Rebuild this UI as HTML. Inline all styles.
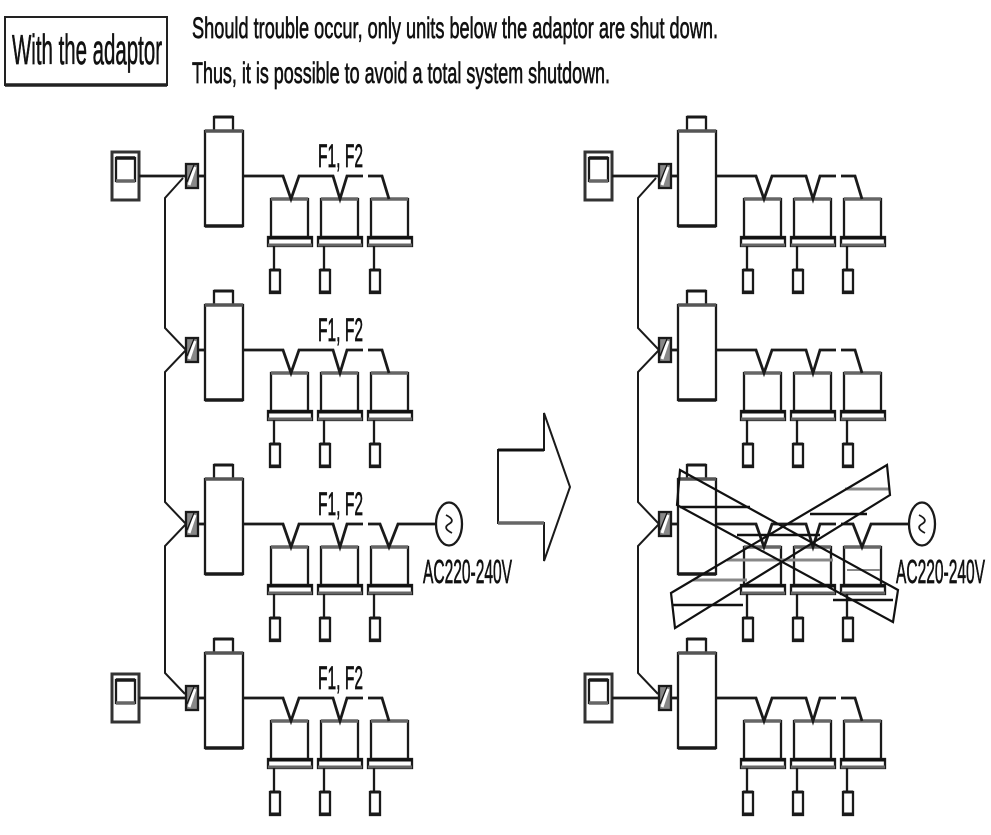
<!DOCTYPE html>
<html>
<head>
<meta charset="utf-8">
<style>
  html,body{margin:0;padding:0;background:#fff;}
  svg{display:block;}
  text{font-family:"Liberation Sans", Arial, sans-serif; fill:#111; stroke:#111; stroke-width:0.7;}
</style>
</head>
<body>
<svg width="991" height="835" viewBox="0 0 991 835" xmlns="http://www.w3.org/2000/svg">
  <defs>
    <g id="od" stroke="#1a1a1a" stroke-width="2.3" fill="#fff">
      <rect x="214" y="-59" width="19" height="14"/>
      <line x1="214" y1="-59" x2="233" y2="-59" stroke-width="3"/>
      <rect x="205" y="-45" width="38" height="95"/>
      <line x1="205" y1="-45" x2="243" y2="-45" stroke="#555" stroke-width="3.5"/>
      <line x1="205" y1="50" x2="243" y2="50" stroke-width="3.5"/>
      <rect x="186" y="-12" width="12" height="24" fill="#888"/>
      <line x1="189" y1="9" x2="195" y2="-9" stroke="#fff" stroke-width="3"/>
      <line x1="187" y1="6" x2="194" y2="-11" stroke="#111" stroke-width="1.2"/>
      <line x1="198" y1="0" x2="205" y2="0" stroke-width="2.8"/>
    </g>
    <g id="iu" stroke="#1a1a1a" stroke-width="2.3" fill="#fff">
      <rect x="3" y="23" width="37" height="38"/>
      <line x1="3" y1="23" x2="40" y2="23" stroke="#666" stroke-width="3.5"/>
      <rect x="0" y="61" width="44" height="9"/>
      <line x1="0" y1="62" x2="44" y2="62" stroke="#111" stroke-width="3"/>
      <line x1="0" y1="69" x2="44" y2="69" stroke="#666" stroke-width="3"/>
      <line x1="6" y1="70" x2="6" y2="94"/>
      <rect x="2" y="94" width="10" height="23"/>
      <line x1="2" y1="94" x2="12" y2="94" stroke-width="3"/>
      <line x1="2" y1="116" x2="12" y2="116" stroke-width="3"/>
    </g>
    <g id="units">
      <use href="#iu" transform="translate(268,0)"/>
      <use href="#iu" transform="translate(318,0)"/>
      <use href="#iu" transform="translate(368,0)"/>
    </g>
    <g id="w1" stroke="#1a1a1a" stroke-width="2.8" fill="none">
      <polyline points="243,0 283,0 291,23 299,0 333,0 340,23 347,0 363,0"/>
      <polyline points="368,0 382,0 389,23"/>
    </g>
    <g id="w3" stroke="#1a1a1a" stroke-width="2.8" fill="none">
      <polyline points="243,0 283,0 291,23 299,0 333,0 340,23 347,0 363,0"/>
      <polyline points="368,0 380,0 389,23 398,0 436,0"/>
      <ellipse cx="449" cy="0" rx="13" ry="21.5" stroke-width="2.3"/>
      <path d="M446,-9 Q456,-4 449,0 Q442,4 452,9" stroke-width="1.8"/>
    </g>
    <g id="rc" stroke="#1a1a1a" stroke-width="2.3" fill="#fff">
      <rect x="112" y="-24" width="27" height="48" stroke="#333" stroke-width="3"/>
      <rect x="116" y="-18" width="19" height="23"/>
      <line x1="116" y1="-18" x2="135" y2="-18" stroke-width="3.5"/>
      <line x1="116" y1="5" x2="135" y2="5" stroke="#666" stroke-width="3.5"/>
      <line x1="139" y1="0" x2="186" y2="0" stroke-width="2.8"/>
    </g>
    <g id="side">
      <path d="M183,178 L165,198 L165,328 L186,350 L165,372 L165,502 L186,524 L165,546 L165,673 L185,694" fill="none" stroke="#1a1a1a" stroke-width="2"/>
      <g transform="translate(0,176)"><use href="#rc"/><use href="#od"/><use href="#units"/><use href="#w1"/></g>
      <g transform="translate(0,350)"><use href="#od"/><use href="#units"/><use href="#w1"/></g>
      <g transform="translate(0,524)"><use href="#od"/><use href="#units"/><use href="#w3"/></g>
      <g transform="translate(0,698)"><use href="#rc"/><use href="#od"/><use href="#units"/><use href="#w1"/></g>
    </g>
  </defs>

  <rect x="5" y="17" width="162" height="68" fill="#fff" stroke="#222" stroke-width="2"/>
  <line x1="5" y1="85" x2="167" y2="85" stroke="#222" stroke-width="3.5"/>
  <text x="12" y="64" font-size="42" textLength="150" lengthAdjust="spacingAndGlyphs">With the adaptor</text>
  <text x="192" y="38" font-size="30" textLength="526" lengthAdjust="spacingAndGlyphs">Should trouble occur, only units below the adaptor are shut down.</text>
  <text x="192" y="83" font-size="30" textLength="418" lengthAdjust="spacingAndGlyphs">Thus, it is possible to avoid a total system shutdown.</text>

  <use href="#side"/>
  <text x="318" y="167" font-size="32" textLength="45" lengthAdjust="spacingAndGlyphs">F1, F2</text>
  <text x="318" y="341" font-size="32" textLength="45" lengthAdjust="spacingAndGlyphs">F1, F2</text>
  <text x="318" y="515" font-size="32" textLength="45" lengthAdjust="spacingAndGlyphs">F1, F2</text>
  <text x="318" y="689" font-size="32" textLength="45" lengthAdjust="spacingAndGlyphs">F1, F2</text>
  <text x="423" y="583" font-size="33" textLength="89" lengthAdjust="spacingAndGlyphs">AC220-240V</text>

  <polygon points="498,450 544,450 544,413 570,487 544,561 544,523 498,523" fill="#fff" stroke="#1a1a1a" stroke-width="2"/>
  <line x1="498" y1="450" x2="544" y2="450" stroke="#111" stroke-width="3"/>
  <line x1="498" y1="523" x2="544" y2="523" stroke="#666" stroke-width="3.5"/>

  <use href="#side" transform="translate(473,0)"/>
  <text x="896" y="583" font-size="33" textLength="89" lengthAdjust="spacingAndGlyphs">AC220-240V</text>

  <g stroke-linecap="butt">
    <line x1="845" y1="489" x2="890" y2="489" stroke="#888" stroke-width="3"/>
    <line x1="680" y1="507" x2="750" y2="507" stroke="#111" stroke-width="2.5"/>
    <line x1="810" y1="514" x2="867" y2="514" stroke="#111" stroke-width="2.5"/>
    <line x1="737" y1="535" x2="820" y2="535" stroke="#111" stroke-width="2.5"/>
    <line x1="727" y1="560" x2="833" y2="560" stroke="#888" stroke-width="3"/>
    <line x1="847" y1="570" x2="880" y2="570" stroke="#888" stroke-width="2"/>
    <line x1="693" y1="580" x2="747" y2="580" stroke="#888" stroke-width="3"/>
    <line x1="833" y1="600" x2="893" y2="600" stroke="#111" stroke-width="2.5"/>
    <line x1="672" y1="605" x2="743" y2="605" stroke="#111" stroke-width="2.5"/>
  </g>
  <polygon points="680,470 898,590 893,622 677,505" fill="none" stroke="#111" stroke-width="2.2"/>
  <polygon points="671,593 887,465 890,495 675,628" fill="none" stroke="#111" stroke-width="2.2"/>
</svg>
</body>
</html>
